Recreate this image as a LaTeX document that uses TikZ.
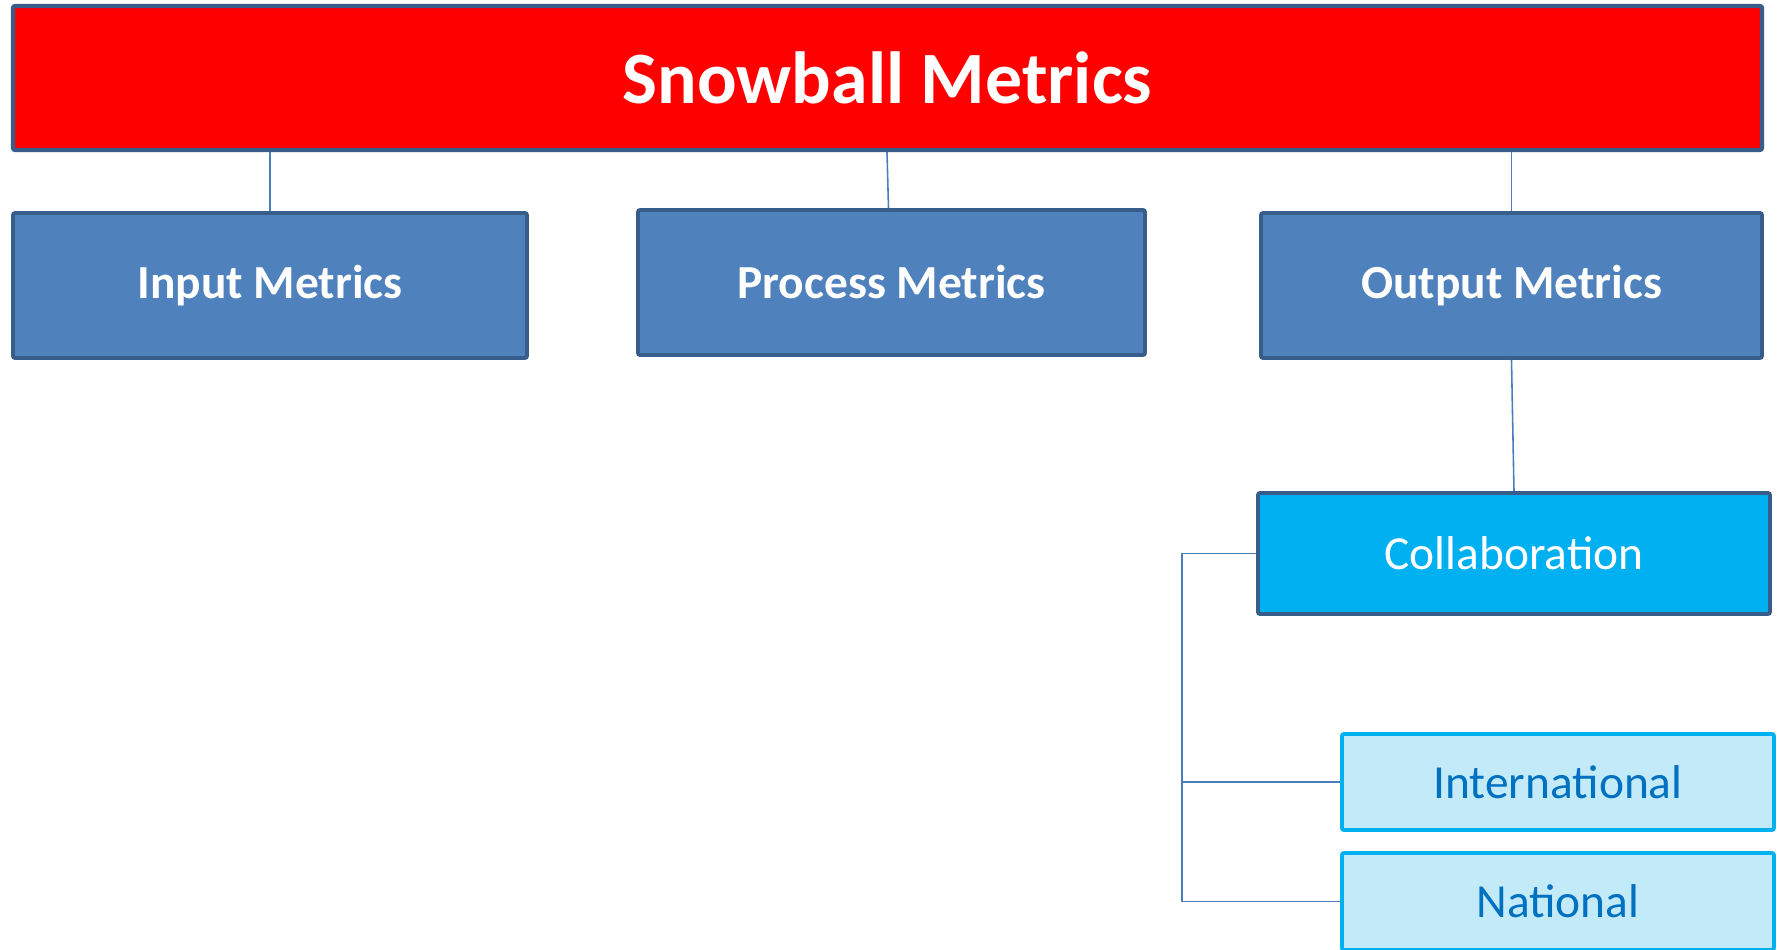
\documentclass[tikz,border=0pt]{standalone}
\usepackage{fontspec}
\setmainfont{Carlito}
\usepackage{tikz}

\definecolor{frameblue}{RGB}{56,93,138}
\definecolor{boxblue}{RGB}{79,129,189}
\definecolor{linkblue}{RGB}{74,126,187}
\definecolor{collabcyan}{RGB}{0,176,240}
\definecolor{leafcyan}{RGB}{194,234,249}
\definecolor{leaftext}{RGB}{0,112,192}

\tikzset{
  topbox/.style={draw=frameblue, line width=1.2pt, fill=red, rounded corners=0.6pt,
    minimum width=17.49cm, minimum height=1.44cm, text=white,
    font=\fontsize{21}{25}\selectfont\bfseries},
  metricbox/.style={draw=frameblue, line width=1.1pt, fill=boxblue, rounded corners=0.6pt,
    minimum height=1.45cm, text=white, font=\fontsize{13.5}{16}\selectfont\bfseries},
  groupbox/.style={draw=frameblue, line width=1.1pt, fill=collabcyan, rounded corners=0.6pt,
    minimum width=5.12cm, minimum height=1.21cm, text=white, font=\fontsize{13.5}{16}\selectfont},
  leafbox/.style={draw=collabcyan, line width=1.1pt, fill=leafcyan, rounded corners=0.6pt,
    minimum width=4.32cm, minimum height=0.96cm, text=leaftext, font=\fontsize{13.5}{16}\selectfont},
  link/.style={draw=linkblue, line width=0.45pt}
}

\begin{document}
\begin{tikzpicture}
    \useasboundingbox (0,0) rectangle (17.77,-9.50);
    \node[topbox] (snowball) at (8.875,-0.78) {Snowball Metrics};
    \node[metricbox, minimum width=5.14cm] (input) at (2.70,-2.855) {Input Metrics};
    \node[metricbox, minimum width=5.07cm] (process) at (8.915,-2.825) {Process Metrics};
    \node[metricbox, minimum width=5.01cm] (output) at (15.115,-2.855) {Output Metrics};
    \node[groupbox] (collab) at (15.14,-5.535) {Collaboration};
    \node[leafbox] (intl) at (15.58,-7.82) {International};
    \node[leafbox, minimum height=0.97cm] (natl) at (15.58,-9.015) {National};
    \coordinate (bus) at (11.82,-5.535);

    \draw[link] (input.north) -- (input.north |- snowball.south);
    \draw[link] ([xshift=-0.03cm]process.north) -- ([xshift=-0.045cm]process.north |- snowball.south);
    \draw[link] (output.north) -- (output.north |- snowball.south);
    \draw[link] (output.south) -- (collab.north);
    \draw[link] (collab.west) -- (bus) |- (natl.west);
    \draw[link] (bus |- intl.west) -- (intl.west);
\end{tikzpicture}
\end{document}
